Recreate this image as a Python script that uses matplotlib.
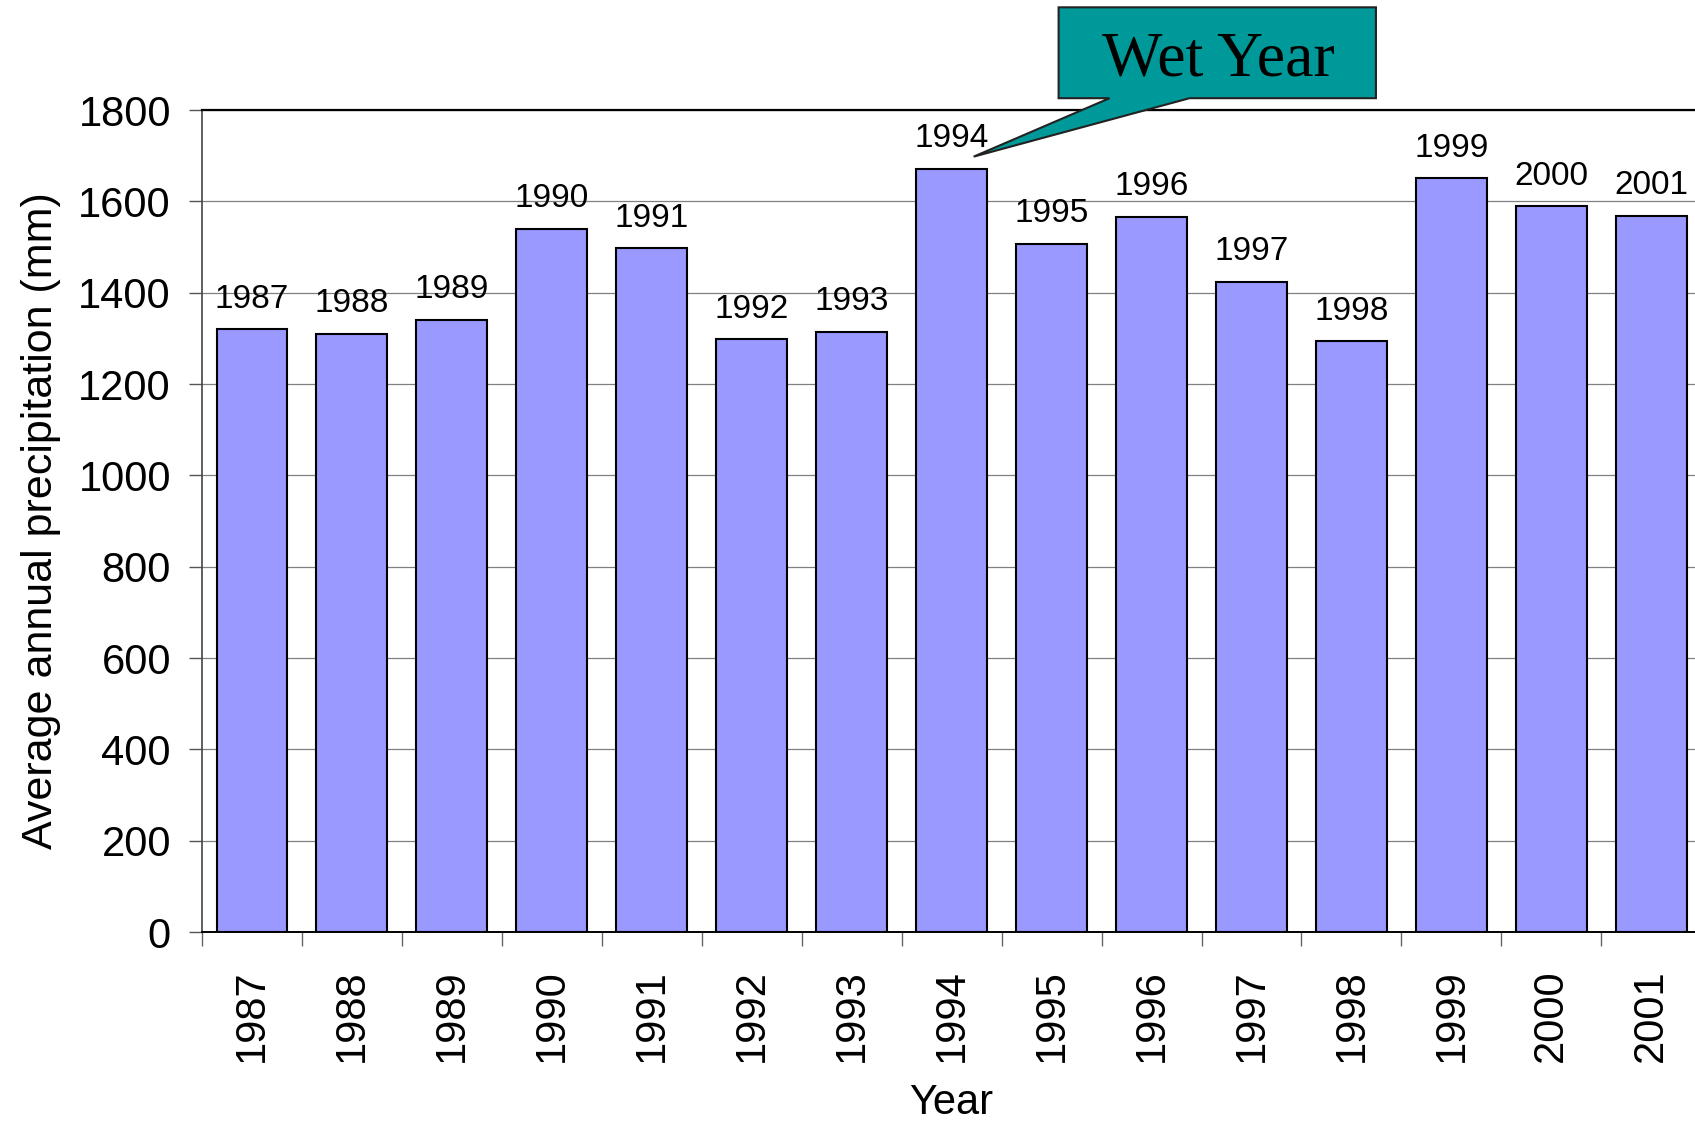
import numpy as np
import matplotlib
matplotlib.use("Agg")
import matplotlib.pyplot as plt
from matplotlib.patches import Polygon
from matplotlib.ticker import FixedLocator

plt.rcParams['font.family'] = ['Liberation Sans', 'DejaVu Sans']

years = ['1987', '1988', '1989', '1990', '1991', '1992', '1993', '1994',
         '1995', '1996', '1997', '1998', '1999', '2000', '2001']
precip = [1320, 1310, 1341, 1540, 1497, 1298, 1315, 1672,
          1507, 1566, 1424, 1294, 1651, 1589, 1568]
yticks = [0, 200, 400, 600, 800, 1000, 1200, 1400, 1600, 1800]

# callout shape in data units (box + pointer to the 1994 bar)
callout_box = [(8.07, 1826), (8.58, 1826), (7.22, 1698), (9.38, 1826),
               (11.245, 1826), (11.245, 2025), (8.07, 2025)]

fig = plt.figure(figsize=(16.95, 11.22), dpi=100)
ax = fig.add_axes([0.1192, 0.1693, 0.8845, 0.7326])

x = np.arange(len(years))
ax.bar(x, precip, width=0.71, color='#9999FF', edgecolor='black',
       linewidth=1.5, zorder=3)

for xi, v, lab in zip(x, precip, years):
    ax.annotate(lab, (xi, v), xytext=(0, 15.5), textcoords='offset points',
                ha='center', va='baseline', fontsize=24, zorder=4)

ax.set_xlim(-0.5, len(years) - 0.5)
ax.set_ylim(0, 1800)
ax.set_yticks(yticks)
ax.tick_params(axis='y', labelsize=30, length=9.4, width=1, color='#555555', pad=13)
ax.grid(axis='y', color='#808080', linewidth=0.9, zorder=0)

ax.set_xticks(x)
ax.set_xticklabels(years, rotation=90, fontsize=30)
ax.tick_params(axis='x', which='major', length=0, pad=27)
ax.xaxis.set_minor_locator(FixedLocator(np.arange(-0.5, len(years), 1)))
ax.tick_params(axis='x', which='minor', length=10, width=1, color='#666666')

ax.spines['right'].set_visible(False)
ax.spines['top'].set_linewidth(1.6)
ax.spines['top'].set_color('black')
ax.spines['left'].set_color('#444444')
ax.spines['left'].set_linewidth(1.2)
ax.spines['bottom'].set_linewidth(1.4)

ax.set_xlabel('Year', fontsize=30, labelpad=15)
ax.set_ylabel('Average annual precipitation (mm)', fontsize=31)
ax.yaxis.set_label_coords(-0.094, 0.5)

poly = Polygon(callout_box, closed=True, facecolor='#009999', edgecolor='#222222',
               linewidth=1.5, clip_on=False, zorder=5)
ax.add_patch(poly)
ax.text(9.67, 1876, 'Wet Year', family=['Liberation Serif', 'DejaVu Serif'],
        fontsize=46, ha='center', va='baseline', zorder=6, clip_on=False)

fig.savefig('out.png', dpi=100)
